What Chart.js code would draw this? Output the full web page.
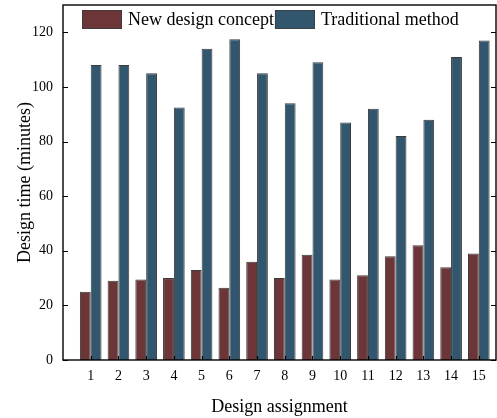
<!DOCTYPE html>
<html>
<head>
<meta charset="utf-8">
<script src="https://cdn.jsdelivr.net/npm/chart.js@4/dist/chart.umd.min.js"></script>
<style>
  html, body { margin: 0; padding: 0; background: #fff; }
  canvas { display: block; }
</style>
</head>
<body>
<canvas id="chart" width="497" height="418"></canvas>
<script>
// Design assignments 1..15
const assignments = [1, 2, 3, 4, 5, 6, 7, 8, 9, 10, 11, 12, 13, 14, 15];
// Design time in minutes per assignment
const newConcept = [25, 29, 29.5, 30, 33, 26.5, 36, 30, 38.5, 29.5, 31, 38, 42, 34, 39];
const traditional = [108, 108, 105, 92.5, 114, 117.5, 105, 94, 109, 87, 92, 82, 88, 111, 117];
const yTicks = [0, 20, 40, 60, 80, 100, 120];

const serif = '"Liberation Serif", "Times New Roman", serif';

// Box frame with inward tick marks on all sides
const framePlugin = {
  id: 'frame',
  afterDatasetsDraw(chart) {
    const { ctx, chartArea: a, scales } = chart;
    ctx.save();
    ctx.strokeStyle = '#000';
    ctx.lineWidth = 1.4;
    ctx.strokeRect(a.left, a.top, a.right - a.left, a.bottom - a.top);
    ctx.lineWidth = 1.2;
    ctx.beginPath();
    yTicks.forEach(v => {
      const y = Math.round(scales.y.getPixelForValue(v)) + 0.5;
      ctx.moveTo(a.left, y); ctx.lineTo(a.left + 5, y);
      ctx.moveTo(a.right, y); ctx.lineTo(a.right - 5, y);
    });
    assignments.forEach(v => {
      const x = Math.round(scales.x.getPixelForValue(v)) + 0.5;
      ctx.moveTo(x, a.bottom); ctx.lineTo(x, a.bottom - 4);
    });
    ctx.stroke();
    ctx.restore();
  }
};

// Legend drawn inside the plot, along its top edge
const insideLegend = {
  id: 'insideLegend',
  afterDraw(chart) {
    const { ctx, chartArea: a } = chart;
    ctx.save();
    ctx.font = '18px ' + serif;
    ctx.textBaseline = 'middle';
    ctx.fillStyle = '#000';
    let x = a.left + 19;
    const y = a.top + 5;
    chart.data.datasets.forEach(ds => {
      ctx.fillStyle = ds.backgroundColor;
      ctx.fillRect(x, y, 40, 19);
      ctx.strokeStyle = 'rgba(60,60,60,0.8)';
      ctx.lineWidth = 1;
      ctx.strokeRect(x + 0.5, y + 0.5, 39, 18);
      ctx.fillStyle = '#000';
      ctx.fillText(ds.label, x + 46, y + 10);
      x += 46 + ctx.measureText(ds.label).width + 1;
    });
    ctx.restore();
  }
};

new Chart(document.getElementById('chart'), {
  type: 'bar',
  data: {
    datasets: [
      {
        label: 'New design concept',
        data: assignments.map((a, i) => ({ x: a, y: newConcept[i] })),
        backgroundColor: '#6c3537',
        borderColor: 'rgba(25,25,25,0.85)',
        borderWidth: 1
      },
      {
        label: 'Traditional method',
        data: assignments.map((a, i) => ({ x: a, y: traditional[i] })),
        backgroundColor: '#31566e',
        borderColor: 'rgba(25,25,25,0.85)',
        borderWidth: 1
      }
    ]
  },
  options: {
    responsive: false,
    animation: false,
    devicePixelRatio: 1,
    layout: { padding: { top: 5, right: 1, left: 0, bottom: 0 } },
    datasets: { bar: { categoryPercentage: 0.78, barPercentage: 1.0 } },
    plugins: {
      legend: { display: false },
      tooltip: { enabled: false }
    },
    scales: {
      x: {
        type: 'linear',
        offset: false,
        min: 0,
        max: 15.62,
        afterBuildTicks(scale) { scale.ticks = assignments.map(v => ({ value: v })); },
        afterFit(scale) {
          scale.height = 58;
          scale.paddingLeft = 0;
          scale.paddingRight = 0;
        },
        grid: { display: false, drawTicks: false },
        border: { display: false },
        ticks: {
          autoSkip: false,
          maxRotation: 0,
          padding: 8,
          color: '#000',
          font: { family: serif, size: 14 }
        },
        title: {
          display: true,
          text: 'Design assignment',
          color: '#000',
          font: { family: serif, size: 18 },
          padding: { top: 6, bottom: 0 }
        }
      },
      y: {
        min: 0,
        max: 130,
        afterBuildTicks(scale) { scale.ticks = yTicks.map(v => ({ value: v })); },
        afterFit(scale) {
          scale.width = 63;
          scale.paddingTop = 0;
          scale.paddingBottom = 0;
        },
        grid: { display: false, drawTicks: false },
        border: { display: false },
        ticks: {
          padding: 10,
          color: '#000',
          font: { family: serif, size: 14 }
        },
        title: {
          display: true,
          text: 'Design time (minutes)',
          color: '#000',
          font: { family: serif, size: 18 },
          padding: { top: 14, bottom: 0 }
        }
      }
    }
  },
  plugins: [framePlugin, insideLegend]
});
</script>
</body>
</html>
